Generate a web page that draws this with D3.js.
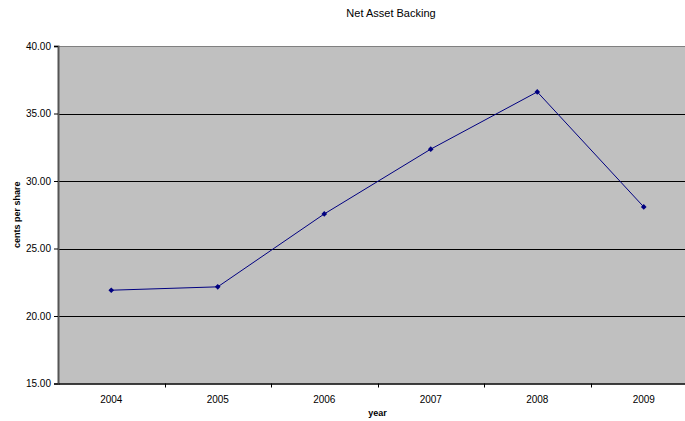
<!DOCTYPE html>
<html><head><meta charset="utf-8">
<script src="https://cdn.jsdelivr.net/npm/d3@7"></script>
<style>body{margin:0;background:#fff}svg{display:block}text{font-family:"Liberation Sans",Arial,sans-serif}</style>
</head><body><svg id="c" width="685" height="421"></svg>
<script>
const years = ["2004","2005","2006","2007","2008","2009"];
const values = [21.91, 22.16, 27.56, 32.36, 36.60, 28.08];
const yTicks = [15, 20, 25, 30, 35, 40];
const title = "Net Asset Backing";
const xTitle = "year";
const yTitle = "cents per share";

const svg = d3.select("#c");
const L = 58, R = 697, T = 46, B = 383.5;
const x = d3.scaleBand().domain(years).range([L, R]).padding(0);
const y = d3.scaleLinear().domain([15, 40]).range([B, T]);

svg.append("rect").attr("x", L).attr("y", T).attr("width", R - L).attr("height", B - T).attr("fill", "#c0c0c0");

// gridlines
svg.append("g").selectAll("line").data(yTicks.filter(d => d > 15 && d < 40)).join("line")
  .attr("x1", L).attr("x2", R)
  .attr("y1", d => Math.round(y(d)) + 0.5).attr("y2", d => Math.round(y(d)) + 0.5)
  .attr("stroke", "#000").attr("stroke-width", 1);
// top border
svg.append("line").attr("x1", L).attr("x2", R).attr("y1", T + 0.5).attr("y2", T + 0.5).attr("stroke", "#808080");

// y axis
const ya = svg.append("g").attr("transform", `translate(${L},0)`)
  .call(d3.axisLeft(y).tickValues(yTicks).tickFormat(d3.format(".2f")).tickSize(4).tickPadding(3));
ya.select(".domain").attr("stroke", "#555").attr("stroke-width", 2);
ya.selectAll(".tick line").attr("stroke", "#000");
ya.selectAll("text").attr("font-size", 10).attr("fill", "#000");

// x axis with ticks between categories
const xa = svg.append("g").attr("transform", `translate(0,${B})`)
  .call(d3.axisBottom(x).tickSize(0).tickPadding(12));
xa.select(".domain").attr("stroke", "#000").attr("stroke-width", 1.5);
xa.selectAll("text").attr("font-size", 10).attr("fill", "#000");
xa.selectAll("line.sep").data(years.slice(1)).join("line").attr("class", "sep")
  .attr("x1", d => Math.round(x(d)) + 0.5).attr("x2", d => Math.round(x(d)) + 0.5)
  .attr("y1", 0).attr("y2", 4).attr("stroke", "#000");

// series
const cx = d => x(d) + x.bandwidth() / 2;
svg.append("path").datum(years.map((d, i) => [cx(d), y(values[i])]))
  .attr("d", d3.line()).attr("fill", "none").attr("stroke", "#000080").attr("stroke-width", 1);
svg.append("g").selectAll("path").data(years).join("path")
  .attr("d", d3.symbol().type(d3.symbolSquare).size(16))
  .attr("transform", (d, i) => `translate(${cx(d)},${y(values[i])}) rotate(45)`)
  .attr("fill", "#000080");

// titles
svg.append("text").attr("x", 391).attr("y", 17).attr("text-anchor", "middle").attr("font-size", 11).text(title);
svg.append("text").attr("x", (L + R) / 2).attr("y", 416).attr("text-anchor", "middle").attr("font-size", 9).attr("font-weight", "bold").text(xTitle);
svg.append("text").attr("transform", `translate(20,${(T + B) / 2}) rotate(-90)`).attr("text-anchor", "middle").attr("font-size", 9).attr("font-weight", "bold").text(yTitle);
</script></body></html>
